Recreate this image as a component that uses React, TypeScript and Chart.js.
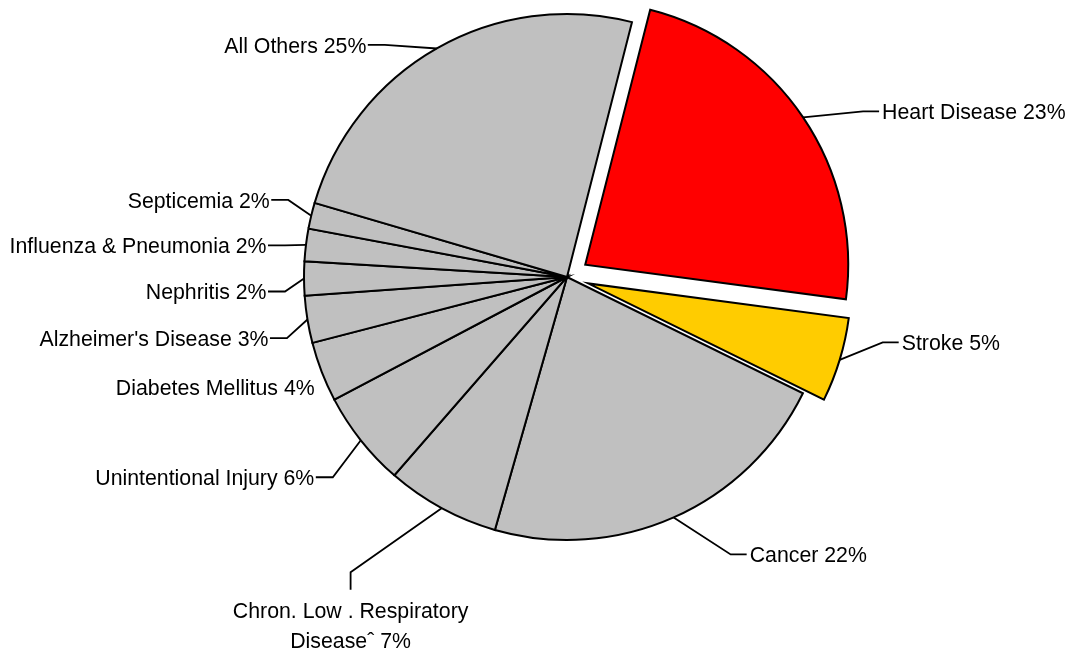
import { useEffect, useRef } from 'react';
import { Chart, ArcElement, PieController } from 'chart.js';

Chart.register(ArcElement, PieController);

// ---- data ----
const categories = [
  'Heart Disease',
  'Stroke',
  'Cancer',
  'Chron. Low . Respiratory\nDiseaseˆ',
  'Unintentional Injury',
  'Diabetes Mellitus',
  "Alzheimer's Disease",
  'Nephritis',
  'Influenza & Pneumonia',
  'Septicemia',
  'All Others',
];
const shares = [23.2, 5.2, 22.2, 7.0, 5.9, 3.7, 2.9, 2.1, 2.0, 1.6, 24.5];
const percentLabels = ['23%', '5%', '22%', '7%', '6%', '4%', '3%', '2%', '2%', '2%', '25%'];

// ---- styling / layout ----
const sliceColors = [
  '#FF0000', '#FFCC00', '#C0C0C0', '#C0C0C0', '#C0C0C0', '#C0C0C0',
  '#C0C0C0', '#C0C0C0', '#C0C0C0', '#C0C0C0', '#C0C0C0',
];
const explodeDistances = [22, 22, 0, 0, 0, 0, 0, 0, 0, 0, 0];
type LeaderStyle = 'left' | 'right' | 'down' | 'none';
const leaderLayout: { dx: number; dy: number; style: LeaderStyle }[] = [
  { dx: 60, dy: -6, style: 'right' },
  { dx: 43, dy: -17.5, style: 'right' },
  { dx: 57, dy: 37, style: 'right' },
  { dx: -91, dy: 64, style: 'down' },
  { dx: -28, dy: 37, style: 'left' },
  { dx: -7, dy: 15.6, style: 'none' },
  { dx: -20.5, dy: 18.6, style: 'left' },
  { dx: -19, dy: 13, style: 'left' },
  { dx: -21, dy: 0.6, style: 'left' },
  { dx: -23, dy: -15.7, style: 'left' },
  { dx: -52, dy: -3.6, style: 'left' },
];
const FONT_SIZE = 21.3;
const FONT = `${FONT_SIZE}px "Liberation Sans", Arial, sans-serif`;

const explodePlugin = {
  id: 'explodeSlices',
  afterDatasetsUpdate(chart: any) {
    const meta = chart.getDatasetMeta(0);
    meta.data.forEach((arc: any, i: number) => {
      const d = explodeDistances[i];
      if (!d) return;
      const mid = (arc.startAngle + arc.endAngle) / 2;
      arc.x += Math.cos(mid) * d;
      arc.y += Math.sin(mid) * d;
    });
  },
};

const labelPlugin = {
  id: 'sliceLabels',
  afterDatasetsDraw(chart: any) {
    const ctx: CanvasRenderingContext2D = chart.ctx;
    const meta = chart.getDatasetMeta(0);
    ctx.save();
    ctx.font = FONT;
    ctx.fillStyle = '#000';
    ctx.strokeStyle = '#000';
    ctx.lineWidth = 1.8;
    ctx.lineJoin = 'miter';
    const capHalf = FONT_SIZE * 0.358;
    meta.data.forEach((arc: any, i: number) => {
      const mid = (arc.startAngle + arc.endAngle) / 2;
      const r = arc.outerRadius;
      const ex = arc.x + Math.cos(mid) * r;
      const ey = arc.y + Math.sin(mid) * r;
      const lay = leaderLayout[i];
      const bx = ex + lay.dx;
      const by = ey + lay.dy;
      const lines = categories[i].split('\n');
      lines[lines.length - 1] = lines[lines.length - 1] + ' ' + percentLabels[i];
      if (lay.style === 'none') {
        ctx.textAlign = 'right';
        ctx.textBaseline = 'alphabetic';
        ctx.fillText(lines[0], bx, by + capHalf);
        return;
      }
      ctx.beginPath();
      ctx.moveTo(ex, ey);
      ctx.lineTo(bx, by);
      let tx = bx;
      let ty = by;
      if (lay.style === 'left') tx = bx - 17;
      else if (lay.style === 'right') tx = bx + 16;
      else ty = by + 17.6;
      ctx.lineTo(tx, ty);
      ctx.stroke();
      ctx.textBaseline = 'alphabetic';
      if (lay.style === 'left') {
        ctx.textAlign = 'right';
        ctx.fillText(lines[0], tx - 1.5, ty + capHalf);
      } else if (lay.style === 'right') {
        ctx.textAlign = 'left';
        ctx.fillText(lines[0], tx + 3, ty + capHalf);
      } else {
        ctx.textAlign = 'center';
        lines.forEach((ln, k) => {
          ctx.fillText(ln, tx, ty + 20.4 + k * 29.8 + capHalf);
        });
      }
    });
    ctx.restore();
  },
};

export default function App() {
  const canvasRef = useRef<HTMLCanvasElement | null>(null);

  useEffect(() => {
    document.body.style.margin = '0';
    const canvas = canvasRef.current;
    if (!canvas) return;
    const chart = new Chart(canvas, {
      type: 'pie',
      data: {
        labels: categories,
        datasets: [
          {
            data: shares,
            backgroundColor: sliceColors,
            borderColor: '#000000',
            borderWidth: 2,
            borderJoinStyle: 'miter',
          } as any,
        ],
      },
      options: {
        animation: false,
        responsive: false,
        events: [],
        rotation: 14.3,
        radius: 263,
        layout: { padding: { left: 65, right: 0, top: 0, bottom: 96 } },
        plugins: {
          legend: { display: false },
          tooltip: { enabled: false },
        },
      } as any,
      plugins: [explodePlugin, labelPlugin],
    });
    return () => chart.destroy();
  }, []);

  return (
    <div style={{ position: 'absolute', left: 0, top: 0, width: 1069, height: 650, background: '#fff' }}>
      <canvas ref={canvasRef} width={1069} height={650} style={{ display: 'block' }} />
    </div>
  );
}
